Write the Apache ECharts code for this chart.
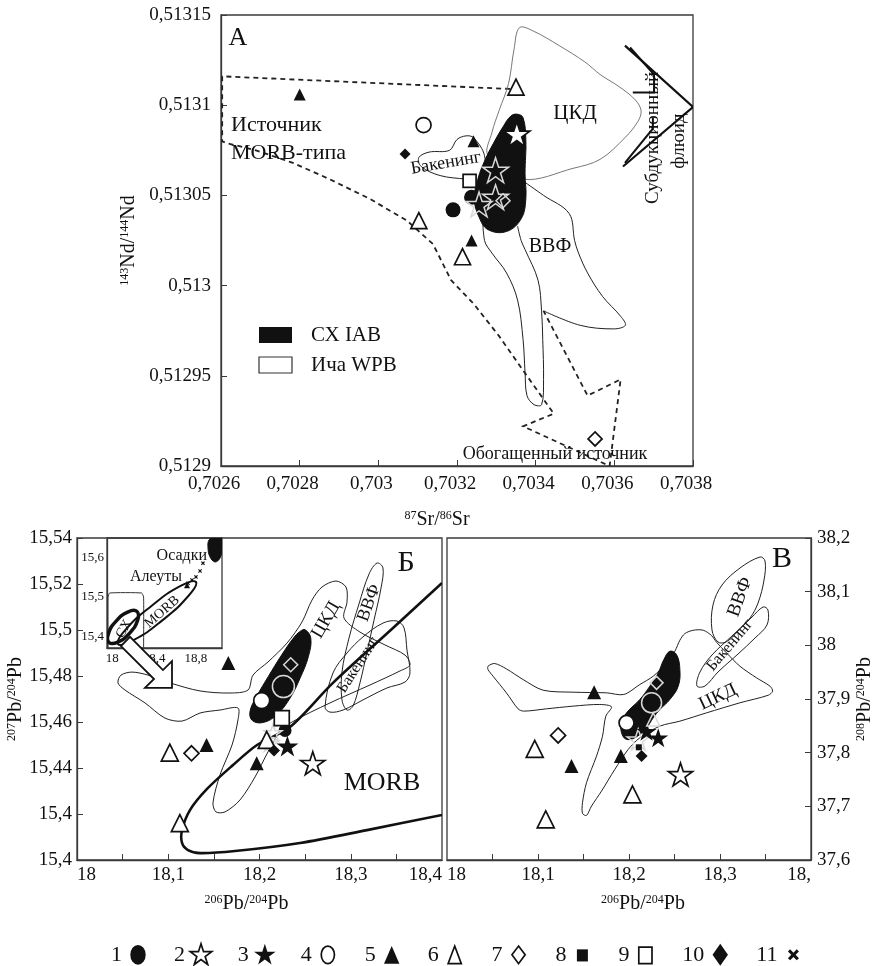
<!DOCTYPE html>
<html><head><meta charset="utf-8">
<script src="https://cdn.jsdelivr.net/npm/echarts@6/dist/echarts.min.js"></script>
<style>html,body{margin:0;padding:0;background:#fff}#c{width:884px;height:966px}</style>
</head><body><div id="c"></div>
<script>
// ================= DATA =================
// ---- Panel A: 87Sr/86Sr vs 143Nd/144Nd
const A_xTicks = [0.7026, 0.7028, 0.703, 0.7032, 0.7034, 0.7036, 0.7038];
const A_xText  = ['0,7026', '0,7028', '0,703', '0,7032', '0,7034', '0,7036', '0,7038'];
const A_yTicks = [0.5129, 0.51295, 0.513, 0.51305, 0.5131, 0.51315];
const A_yText  = ['0,5129', '0,51295', '0,513', '0,51305', '0,5131', '0,51315'];
const A_s1  = [[0.70319, 0.513042], [0.703237, 0.513049]];
const A_s2  = [[0.703352, 0.513084]];
const A_s2f = [[0.703298, 0.513064], [0.703256, 0.513045], [0.703298, 0.513049]];
const A_s4  = [[0.703115, 0.513089]];
const A_s5  = [[0.7028, 0.513106], [0.703242, 0.51308], [0.703237, 0.513025]];
const A_s6  = [[0.70335, 0.51311], [0.703103, 0.513036], [0.703214, 0.513016]];
const A_s7  = [[0.703551, 0.512915]];
const A_s7f = [[0.703317, 0.513047]];
const A_s9  = [[0.703232, 0.513058]];
const A_s10 = [[0.703068, 0.513073]];
const A_ckd = [[0.703359,0.513143],[0.703395,0.513141],[0.70346,0.513133],[0.703525,0.513124],[0.703564,0.513117],[0.703614,0.51311],[0.703653,0.513103],[0.703668,0.513097],[0.70366,0.513091],[0.703627,0.513082],[0.703564,0.51307],[0.703495,0.513065],[0.703368,0.513059],[0.703279,0.513072],[0.703289,0.513085],[0.703307,0.513097],[0.703331,0.513112],[0.703345,0.513131]];
const A_vvf = [[0.703368,0.513058],[0.70342,0.51305],[0.703485,0.51304],[0.703499,0.513025],[0.703509,0.513018],[0.703532,0.513007],[0.70357,0.512994],[0.703616,0.512983],[0.703628,0.512978],[0.703598,0.512976],[0.703513,0.512978],[0.70342,0.512986]];
const A_tail = [[0.703265,0.513044],[0.70327,0.513025],[0.703289,0.513018],[0.703326,0.513007],[0.703354,0.512992],[0.703368,0.51297],[0.703373,0.512952],[0.703378,0.512939],[0.703396,0.512934],[0.703415,0.512934],[0.70342,0.512948],[0.703418,0.51297],[0.703415,0.512986],[0.703406,0.513003],[0.703373,0.51302],[0.703363,0.513025],[0.703354,0.513033]];
const A_bak = [[0.70327,0.513072],[0.703242,0.513082],[0.703223,0.513083],[0.7032,0.513081],[0.703181,0.513075],[0.703129,0.513074],[0.703103,0.513071],[0.703109,0.513066],[0.703157,0.513061],[0.703223,0.513059],[0.703265,0.513058]];
const A_cx = [[0.703354,0.513095],[0.703368,0.513093],[0.703375,0.513081],[0.703373,0.513062],[0.703375,0.513048],[0.703363,0.513037],[0.703326,0.51303],[0.703279,0.513031],[0.703256,0.513038],[0.703244,0.513048],[0.703253,0.513059],[0.703272,0.51307],[0.703293,0.513079],[0.703317,0.513088],[0.703337,0.513094]];
const A_morb = [[0.703335,0.513109],[0.702603,0.513116],[0.702603,0.51308],[0.702614,0.513079],[0.702689,0.513075],[0.702783,0.513068],[0.702876,0.513059],[0.702979,0.513048],[0.703073,0.513036],[0.703139,0.513023],[0.703185,0.513003],[0.703242,0.51299],[0.703307,0.512972],[0.703368,0.512953],[0.703446,0.512929],[0.703368,0.512922],[0.703588,0.5129],[0.703616,0.512948],[0.703532,0.512939],[0.70342,0.512986]];
const A_fluidHead  = [[0.703627,0.513133],[0.7038,0.513099],[0.703622,0.513066]];
const A_fluidUpper = [[0.70364,0.513132],[0.703701,0.513117],[0.703701,0.513107],[0.703647,0.513107]];
const A_fluidLower = [[0.703627,0.513068],[0.703698,0.513087],[0.703698,0.513093]];

// ---- Panel Б: 206Pb/204Pb vs 207Pb/204Pb
const B_xTicks = [18.05, 18.1, 18.15, 18.2, 18.25, 18.3, 18.35];
const B_xLabels = [18, 18.1, 18.2, 18.3, 18.4];
const B_xText = ['18', '18,1', '18,2', '18,3', '18,4'];
const B_yLabels = [15.4, 15.42, 15.44, 15.46, 15.48, 15.5, 15.52, 15.54];
const B_yText = ['15,4', '15,4', '15,44', '15,46', '15,48', '15,5', '15,52', '15,54'];
const B_s1  = [[18.228, 15.4563]];
const B_s2  = [[18.2584, 15.4421]];
const B_s2f = [[18.2148, 15.4553], [18.2115, 15.451]];
const B_s3  = [[18.2306, 15.4496]];
const B_s4  = [[18.2024, 15.4693]];
const B_s4f = [[18.2262, 15.4754]];
const B_s5  = [[18.1658, 15.4856], [18.1969, 15.4421], [18.142, 15.45]];
const B_s6  = [[18.2079, 15.4522], [18.1017, 15.4467], [18.1127, 15.416]];
const B_s7  = [[18.1255, 15.4464]];
const B_s7f = [[18.2342, 15.4849]];
const B_s9  = [[18.2244, 15.4617]];
const B_s10 = [[18.2159, 15.4476]];
const B_cx = [[18.25,15.5001],[18.2562,15.4965],[18.2536,15.4885],[18.2445,15.4791],[18.2335,15.4704],[18.2189,15.4631],[18.2042,15.4598],[18.1922,15.4606],[18.1896,15.4646],[18.1969,15.4711],[18.2097,15.4798],[18.2244,15.4892],[18.2372,15.4965],[18.2445,15.4994]];
const B_ckd = [[18.0449,15.4770],[18.0482,15.4804],[18.0603,15.4817],[18.0778,15.4804],[18.1019,15.4770],[18.1348,15.4735],[18.1677,15.4726],[18.1874,15.4739],[18.1929,15.4804],[18.2093,15.4861],[18.2301,15.4943],[18.2466,15.5035],[18.2575,15.5130],[18.2685,15.5187],[18.2838,15.5213],[18.2948,15.5187],[18.2959,15.5122],[18.2926,15.5052],[18.3101,15.4991],[18.3375,15.4935],[18.3595,15.4891],[18.3649,15.4848],[18.3540,15.4822],[18.3211,15.4761],[18.2773,15.4683],[18.2356,15.4600],[18.2225,15.4557],[18.2093,15.4470],[18.1951,15.4361],[18.1786,15.4261],[18.1622,15.4209],[18.1523,15.4209],[18.1490,15.4248],[18.1567,15.4370],[18.1699,15.4500],[18.1764,15.4609],[18.1764,15.4661],[18.1567,15.4652],[18.1348,15.4639],[18.1151,15.4604],[18.0964,15.4617],[18.0745,15.4683],[18.0526,15.4739]];
const B_vvf = [[18.3288,15.5291],[18.3353,15.5270],[18.3332,15.5183],[18.3255,15.5043],[18.3178,15.4904],[18.3101,15.4770],[18.3025,15.4670],[18.2959,15.4652],[18.2904,15.4696],[18.2904,15.4817],[18.2981,15.4965],[18.3090,15.5113],[18.3200,15.5243]];
const B_bak = [[18.2718,15.4665],[18.2805,15.4813],[18.2959,15.4900],[18.3134,15.4970],[18.3353,15.5030],[18.3507,15.5039],[18.3584,15.5009],[18.3616,15.4913],[18.3649,15.4813],[18.3595,15.4774],[18.3397,15.4748],[18.3134,15.4696],[18.2915,15.4652],[18.2773,15.4643]];
const B_morb = [[18.4,15.5204],[18.3463,15.5009],[18.2805,15.4770],[18.2334,15.4578],[18.1973,15.4500],[18.1710,15.4413],[18.1425,15.4309],[18.1238,15.4217],[18.1151,15.4130],[18.1151,15.4074],[18.1216,15.4043],[18.1348,15.4030],[18.1732,15.4039],[18.2444,15.4074],[18.3178,15.4130],[18.4,15.4196]];
const B_arrow = [[18.0482,15.4930],[18.0844,15.4787],[18.0745,15.4748],[18.1041,15.4748],[18.1041,15.4865],[18.0942,15.4826],[18.0581,15.4970]];

// ---- Inset (206Pb/204Pb vs 207Pb/204Pb, wide range)
const I_xLabels = [18, 18.4, 18.8];
const I_xText = ['18', '18,4', '18,8'];
const I_yLabels = [15.4, 15.5, 15.6];
const I_yText = ['15,4', '15,5', '15,6'];
const I_s11 = [[18.725,15.535],[18.763,15.543],[18.801,15.551],[18.84,15.566],[18.868,15.586]];
const I_s5  = [[18.715, 15.53]];
const I_sed = [[18.926,15.645],[18.973,15.65],[19.05,15.65],[19.05,15.622],[19.031,15.599],[18.983,15.589],[18.935,15.602],[18.916,15.625]];
const I_morb = [[18.801,15.538],[18.730,15.503],[18.482,15.441],[18.203,15.390],[18.055,15.380],[18.126,15.416],[18.375,15.477],[18.654,15.528]];
const I_cx = [[18.237,15.463],[18.243,15.441],[18.167,15.408],[18.053,15.385],[17.969,15.384],[17.963,15.406],[18.039,15.439],[18.153,15.462]];
const I_box = [[17.96,15.37],[17.96,15.50],[17.975,15.51],[18.28,15.51],[18.30,15.50],[18.30,15.37]];

// ---- Panel В: 206Pb/204Pb vs 208Pb/204Pb
const C_xLabels = [18, 18.1, 18.2, 18.3, 18.4];
const C_xText = ['18', '18,1', '18,2', '18,3', '18,'];
const C_yLabels = [37.6, 37.7, 37.8, 37.9, 38, 38.1, 38.2];
const C_yText = ['37,6', '37,7', '37,8', '37,9', '38', '38,1', '38,2'];
const C_s2  = [[18.2566, 37.7595]];
const C_s2f = [[18.2101, 37.8246]];
const C_s3  = [[18.2321, 37.8277], [18.2193, 37.8401]];
const C_s4  = [[18.1973, 37.8556]];
const C_s4f = [[18.2248, 37.8929]];
const C_s5  = [[18.1617, 37.9127], [18.1368, 37.775], [18.191, 37.7936]];
const C_s6  = [[18.0964, 37.8072], [18.1085, 37.6757], [18.2038, 37.7222]];
const C_s6f = [[18.2266, 37.8618]];
const C_s7  = [[18.1221, 37.8321]];
const C_s7f = [[18.2303, 37.9301]];
const C_s8  = [[18.2108, 37.81]];
const C_s10 = [[18.2138, 37.7936]];
const C_cx = [[18.2449,37.989],[18.2522,37.9828],[18.2559,37.9549],[18.2541,37.9239],[18.2449,37.8991],[18.2339,37.8804],[18.2266,37.8649],[18.2193,37.8463],[18.2083,37.8296],[18.1973,37.8246],[18.1918,37.837],[18.1918,37.8556],[18.1973,37.8742],[18.2119,37.8991],[18.2229,37.9239],[18.2321,37.9487],[18.2383,37.9735]];
const C_ckd = [[18.0451,37.9611],[18.0524,37.9661],[18.0653,37.9561],[18.0836,37.9363],[18.1056,37.9164],[18.1386,37.9127],[18.1753,37.9115],[18.1943,37.9084],[18.2119,37.927],[18.2266,37.9425],[18.2412,37.9673],[18.2504,37.989],[18.2559,38.0095],[18.2614,38.0219],[18.2706,38.0281],[18.2816,38.0281],[18.2907,38.0182],[18.2962,38.0058],[18.3072,37.9859],[18.3219,37.9611],[18.3402,37.9394],[18.3549,37.9239],[18.3578,37.9146],[18.3531,37.9071],[18.3219,37.8929],[18.2852,37.8742],[18.2559,37.8587],[18.2339,37.8494],[18.2119,37.8277],[18.1991,37.806],[18.1844,37.7688],[18.1698,37.7284],[18.1588,37.7005],[18.1533,37.6831],[18.1489,37.6869],[18.1489,37.7067],[18.1533,37.744],[18.1643,37.7936],[18.1709,37.8308],[18.1745,37.868],[18.1808,37.8854],[18.1679,37.8898],[18.1386,37.8867],[18.1093,37.8817],[18.0843,37.8774],[18.0781,37.8817],[18.0653,37.9115],[18.0506,37.9425],[18.0451,37.9549]];
const C_vvf = [[18.2978,38.0062],[18.2912,38.0286],[18.2923,38.0752],[18.3022,38.1124],[18.3220,38.1441],[18.3440,38.1646],[18.3495,38.1571],[18.3484,38.1217],[18.3418,38.0789],[18.3330,38.0509],[18.3187,38.0248],[18.3066,38.0062]];
const C_bak = [[18.2747,37.9242],[18.2780,37.9503],[18.2912,37.9820],[18.3143,38.0192],[18.3352,38.0528],[18.3473,38.0714],[18.3527,38.0658],[18.3516,38.0379],[18.3385,38.0137],[18.3198,37.9838],[18.2978,37.9503],[18.2835,37.9242]];

// ---- Legend categories
const LEG = ['1','2','3','4','5','6','7','8','9','10','11'];

// ================= CHART =================
const FONT = 'Liberation Serif';
const STAR = 'path://M12,0L14.8,8.6L23.8,8.6L16.5,13.9L19.3,22.5L12,17.2L4.7,22.5L7.5,13.9L0.2,8.6L9.2,8.6Z';
const CROSS = 'path://M0,0L0.1,0L0,0.1Z M20,20L19.9,20L20,19.9Z M5,7L7,5L10,8L13,5L15,7L12,10L15,13L13,15L10,12L7,15L5,13L8,10Z';
const SHAPE = {'1':'circle','2':STAR,'3':STAR,'4':'circle','5':'triangle','6':'triangle','7':'diamond','8':'rect','9':'rect','10':'diamond','11':CROSS};
// legend icons drawn in a 20x20 box (the two bare moveTo points fix the box)
const BOX = 'path://M0,0 M20,20 ';
const LEG_STAR = 'M10,0L12.3,7.1L19.8,7.1L13.8,11.6L16.1,18.8L10,14.3L3.9,18.8L6.2,11.6L0.2,7.1L7.7,7.1Z';
const LEG_ICON = {
  '1': BOX + 'M10,1 A7,9 0 1,1 9.99,1 Z',
  '2': BOX + LEG_STAR,
  '3': BOX + LEG_STAR,
  '4': BOX + 'M10,2 A6,8 0 1,1 9.99,2 Z',
  '5': BOX + 'M10,2 L17,18 L3,18 Z',
  '6': BOX + 'M10,2 L16,18 L4,18 Z',
  '7': BOX + 'M10,2 L16,10 L10,18 L4,10 Z',
  '8': BOX + 'M5,5 L15,5 L15,16 L5,16 Z',
  '9': BOX + 'M4,3 L16,3 L16,18 L4,18 Z',
  '10': BOX + 'M10,0 L17,10 L10,20 L3,10 Z',
  '11': BOX + 'M5,7L7,5L10,8L13,5L15,7L12,10L15,13L13,15L10,12L7,15L5,13L8,10Z'
};
const OPEN = {color:'#fff', borderColor:'#111', borderWidth:1.7, opacity:1};
const FILLED = {color:'#111', borderWidth:0, opacity:1};
const ONFIELD = {color:'rgba(0,0,0,0)', borderColor:'#d8d8d8', borderWidth:1.5, opacity:1};
const KIND = {'1':FILLED,'2':OPEN,'3':FILLED,'4':OPEN,'5':FILLED,'6':OPEN,'7':OPEN,'8':FILLED,'9':OPEN,'10':FILLED,'11':FILLED};

function pts(g, cat, data, size, style) {
  return {type:'scatter', name:cat, xAxisIndex:g, yAxisIndex:g, data:data, symbol:SHAPE[cat],
    symbolSize:size, symbolKeepAspect:true, itemStyle:style || KIND[cat], z:6, silent:true};
}
function field(g, p, o) {
  o = o || {};
  return {type:'custom', xAxisIndex:g, yAxisIndex:g, clip:true, silent:true, z:o.z || 3,
    data:[p[0]], encode:{x:0, y:1},
    renderItem:function(params, api){
      return {type:o.closed ? 'polygon' : 'polyline',
        shape:{points:p.map(function(q){return api.coord(q);}), smooth:o.smooth === undefined ? 0.35 : o.smooth},
        style:{fill:o.fill || (o.closed ? 'rgba(0,0,0,0)' : null), stroke:o.stroke || '#222',
          lineWidth:o.width || 1, lineDash:o.dash || null}};
    }};
}
function lbl(ticks, texts) {
  return function(v){ for (let i = 0; i < ticks.length; i++) { if (Math.abs(ticks[i]-v) < 1e-7) return texts[i]; } return ''; };
}
function axis(o) {
  return {type:'value', gridIndex:o.g, min:o.min, max:o.max, position:o.pos,
    name:o.name || '', nameLocation:'middle', nameGap:o.gap || 30, nameRotate:o.rot,
    nameTextStyle:{fontFamily:FONT, fontSize:20, color:'#111', padding:o.pad || 0,
      rich:{s:{fontFamily:FONT, fontSize:12, color:'#111', verticalAlign:'top'}}},
    splitLine:{show:false},
    axisLine:{show:true, onZero:false, lineStyle:{color:'#3a3a3a', width:1.3}},
    axisTick:{show:o.ticks !== null, inside:true, length:6, customValues:o.ticks || o.labels, lineStyle:{color:'#3a3a3a', width:1}},
    axisLabel:{customValues:o.labels, formatter:lbl(o.labels, o.texts), fontFamily:FONT,
      fontSize:o.fs || 18, color:'#111', margin:o.margin === undefined ? 8 : o.margin, hideOverlap:false,
      padding:o.lpad || 0, alignMinLabel:o.edge ? 'left' : null, alignMaxLabel:o.edge ? 'right' : null}};
}
function txt(x, y, text, size, rot, align) {
  return {type:'text', x:x, y:y, rotation:rot || 0, z:20, silent:true,
    style:{text:text, fontSize:size, fontFamily:FONT, fill:'#111', align:align || 'center', verticalAlign:'middle',
      textAlign:align || 'center', textVerticalAlign:'middle'}};
}
const gridStyle = {show:true, borderColor:'#3a3a3a', borderWidth:1.3, backgroundColor:'transparent'};

const option = {
  animation:false,
  backgroundColor:'#fff',
  grid:[
    Object.assign({left:221, top:15, width:472, height:451}, gridStyle),
    Object.assign({left:77, top:538, width:365, height:322}, gridStyle),
    Object.assign({left:447, top:538, width:364, height:322}, gridStyle),
    Object.assign({left:107, top:538, width:115, height:110}, gridStyle)
  ],
  xAxis:[
    axis({g:0, min:0.7026, max:0.7038, labels:A_xTicks, texts:A_xText, fs:19, margin:9, lpad:[0,14,0,0],
      name:'{s|87}Sr/{s|86}Sr', gap:44, pad:[0,40,0,0]}),
    axis({g:1, min:18, max:18.4, labels:B_xLabels, texts:B_xText, ticks:B_xTicks, fs:19, margin:6, edge:true,
      name:'{s|206}Pb/{s|204}Pb', gap:34, pad:[0,26,0,0]}),
    axis({g:2, min:18, max:18.4, labels:C_xLabels, texts:C_xText, ticks:B_xTicks, fs:19, margin:6, edge:true,
      name:'{s|206}Pb/{s|204}Pb', gap:34, pad:[0,0,0,28]}),
    axis({g:3, min:17.95, max:19.05, labels:I_xLabels, texts:I_xText, ticks:null, fs:13, margin:4})
  ],
  yAxis:[
    axis({g:0, min:0.5129, max:0.51315, labels:A_yTicks, texts:A_yText, fs:19, margin:10,
      name:'{s|143}Nd/{s|144}Nd', gap:82}),
    axis({g:1, min:15.4, max:15.54, labels:B_yLabels, texts:B_yText, fs:19, margin:5,
      name:'{s|207}Pb/{s|204}Pb', gap:48}),
    axis({g:2, min:37.6, max:38.2, labels:C_yLabels, texts:C_yText, fs:19, margin:6, pos:'right',
      name:'{s|208}Pb/{s|204}Pb', gap:44, rot:90}),
    axis({g:3, min:15.37, max:15.65, labels:I_yLabels, texts:I_yText, ticks:null, fs:13, margin:3})
  ],
  legend:{left:106, top:938, itemGap:25, itemWidth:22, itemHeight:22, align:'right', selectedMode:false,
    textStyle:{fontFamily:FONT, fontSize:22, color:'#111'},
    data:LEG.map(function(c){ return {name:c, icon:LEG_ICON[c], itemStyle:Object.assign({}, KIND[c])}; })},
  graphic:{elements:[
    // Panel A annotations
    txt(238, 38, 'А', 26),
    txt(231, 125, 'Источник', 22, 0, 'left'),
    txt(231, 153, 'MORB-типа', 22, 0, 'left'),
    txt(575, 113, 'ЦКД', 21),
    txt(446, 163, 'Бакенинг', 18, 0.17),
    txt(550, 247, 'ВВФ', 20),
    txt(653, 138, 'Субдукционный', 19, Math.PI/2),
    txt(679, 141, 'флюид', 19, Math.PI/2),
    txt(555, 454, 'Обогащенный источник', 18),
    {type:'rect', z:20, silent:true, shape:{x:259, y:327, width:33, height:16}, style:{fill:'#111'}},
    {type:'rect', z:20, silent:true, shape:{x:259, y:357, width:33, height:16}, style:{fill:'#fff', stroke:'#333', lineWidth:1.2}},
    txt(311, 335, 'СХ IAB', 21, 0, 'left'),
    txt(311, 365, 'Ича WPB', 21, 0, 'left'),
    // Panel Б
    txt(406, 563, 'Б', 30),
    txt(326, 620, 'ЦКД', 19, 1.05),
    txt(369, 603, 'ВВФ', 18, 1.22),
    txt(358, 665, 'Бакенинг', 16, 1.0),
    txt(382, 783, 'MORB', 26),
    txt(207, 556, 'Осадки', 16, 0, 'right'),
    txt(182, 577, 'Алеуты', 16, 0, 'right'),
    txt(162, 612, 'MORB', 14, 0.72),
    txt(124, 629, 'СХ', 14, 1.05),
    // Panel В
    txt(782, 559, 'В', 30),
    txt(740, 597, 'ВВФ', 19, 1.22),
    txt(730, 645, 'Бакенинг', 16, 0.87),
    txt(718, 697, 'ЦКД', 19, 0.44)
  ]},
  series:[
    // ---- A fields
    field(0, A_morb, {dash:[5,4], width:1.8, smooth:0}),
    field(0, A_ckd, {closed:true, stroke:'#777'}),
    field(0, A_vvf, {}),
    field(0, A_tail, {}),
    field(0, A_bak, {closed:true}),
    field(0, A_cx, {closed:true, fill:'#111', stroke:'#111', z:4, smooth:0.4}),
    field(0, A_fluidHead, {smooth:0, width:2.2, stroke:'#111', z:5}),
    field(0, A_fluidUpper, {smooth:0, width:2, stroke:'#111', z:5}),
    field(0, A_fluidLower, {smooth:0, width:2, stroke:'#111', z:5}),
    // ---- A points
    pts(0,'1',A_s1,15), pts(0,'2',A_s2,26), pts(0,'2',A_s2f,26,ONFIELD), pts(0,'4',A_s4,15),
    pts(0,'5',A_s5,12), pts(0,'6',A_s6,16), pts(0,'7',A_s7,14), pts(0,'7',A_s7f,14,ONFIELD),
    pts(0,'9',A_s9,13), pts(0,'10',A_s10,11),
    // ---- Б fields
    field(1, B_ckd, {closed:true, smooth:0.3}),
    field(1, B_vvf, {closed:true}),
    field(1, B_bak, {closed:true}),
    field(1, B_morb, {width:2.6, stroke:'#111', smooth:0.3}),
    field(1, B_cx, {closed:true, fill:'#111', stroke:'#111', z:4, smooth:0.4}),
    field(1, B_arrow, {closed:true, fill:'#fff', stroke:'#111', width:1.8, smooth:0, z:5}),
    // ---- Б points
    pts(1,'1',B_s1,13), pts(1,'2',B_s2,24), pts(1,'2',B_s2f,18,ONFIELD), pts(1,'3',B_s3,22),
    pts(1,'4',B_s4,16), pts(1,'4',B_s4f,22,ONFIELD), pts(1,'5',B_s5,14), pts(1,'6',B_s6,17),
    pts(1,'7',B_s7,15), pts(1,'7',B_s7f,14,ONFIELD), pts(1,'9',B_s9,15), pts(1,'10',B_s10,12),
    // ---- Inset
    field(3, I_box, {smooth:0.15, width:1, stroke:'#333'}),
    field(3, I_morb, {closed:true, width:2, stroke:'#111', smooth:0.5}),
    field(3, I_cx, {closed:true, width:3.5, stroke:'#111', smooth:0.5}),
    field(3, I_sed, {closed:true, fill:'#111', stroke:'#111', smooth:0.4}),
    pts(3,'11',I_s11,8), pts(3,'5',I_s5,6),
    // ---- В fields
    field(2, C_ckd, {closed:true, smooth:0.3}),
    field(2, C_vvf, {closed:true}),
    field(2, C_bak, {closed:true}),
    field(2, C_cx, {closed:true, fill:'#111', stroke:'#111', z:4, smooth:0.4}),
    // ---- В points
    pts(2,'2',C_s2,24), pts(2,'2',C_s2f,22,ONFIELD), pts(2,'3',C_s3,20), pts(2,'4',C_s4,15),
    pts(2,'4',C_s4f,20,ONFIELD), pts(2,'5',C_s5,14), pts(2,'6',C_s6,17), pts(2,'6',C_s6f,13,ONFIELD),
    pts(2,'7',C_s7,15), pts(2,'7',C_s7f,13,ONFIELD), pts(2,'8',C_s8,6), pts(2,'10',C_s10,12)
  ]
};
const chart = echarts.init(document.getElementById('c'));
chart.setOption(option);
</script>
</body></html>
